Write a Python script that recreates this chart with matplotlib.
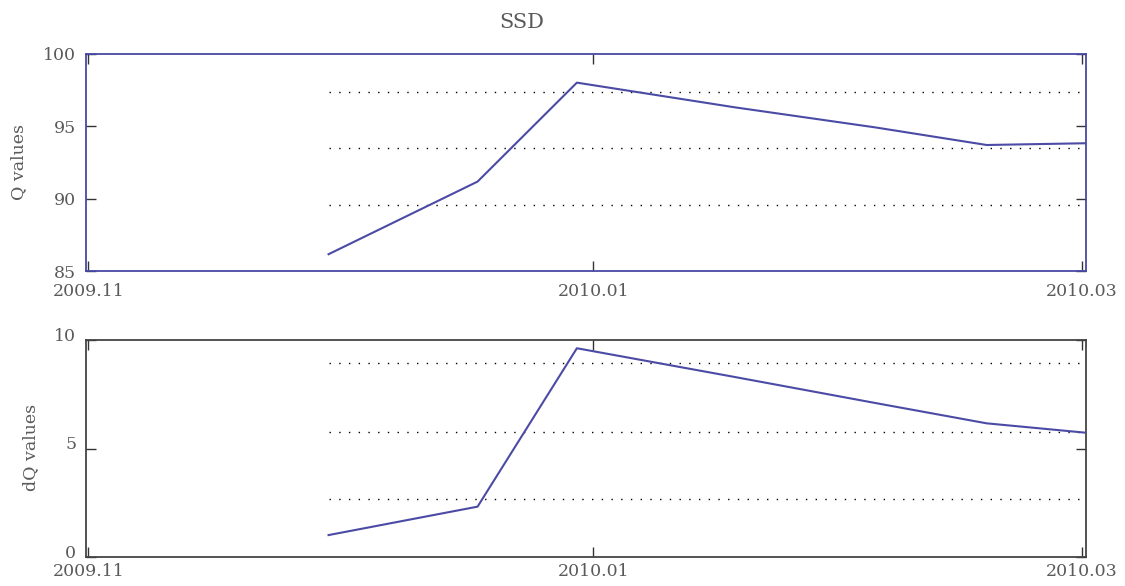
import matplotlib
matplotlib.use("Agg")
import matplotlib.pyplot as plt
from matplotlib.transforms import ScaledTranslation

plt.rcParams["font.family"] = "DejaVu Serif"

# days counted from 2009-11-01
days = [29, 47, 59, 78, 95, 108.5, 120.4]
q_vals = [86.16, 91.18, 98.02, 96.32, 94.93, 93.71, 93.83]
dq_vals = [1.01, 2.32, 9.62, 8.3, 7.1, 6.16, 5.73]

q_levels = [97.35, 93.53, 89.59]
dq_levels = [8.95, 5.76, 2.66]

tick_days = [0, 61, 120]
tick_labels = ["2009.11", "2010.01", "2010.03"]

W, H = 1125, 586
fig = plt.figure(figsize=(W / 100, H / 100), dpi=100)

line_col = "#4b4ba6"
txt_col = "#5a5a5a"

def px_axes(x0, y0, x1, y1):
    return fig.add_axes([x0 / W, 1 - y1 / H, (x1 - x0) / W, (y1 - y0) / H])

ax1 = px_axes(86, 54, 1086, 271)
ax2 = px_axes(86, 340, 1086, 557)

for ax, vals, levels, ylim, yticks, spine_col, xpad in [
    (ax1, q_vals, q_levels, (85, 100), [85, 90, 95, 100], "#4848a8", 9),
    (ax2, dq_vals, dq_levels, (0, 10), [0, 5, 10], "#444444", 4),
]:
    xmax = 120.5
    ax.plot(days, vals, color=line_col, lw=1.5, zorder=3)
    ax.hlines(levels, days[0], xmax, colors="k", linestyles=(0, (1, 6)), lw=1.0)
    ax.set_xlim(-0.3, xmax)
    ax.set_ylim(*ylim)
    ax.set_yticks(yticks)
    ax.set_xticks(tick_days)
    ax.set_xticklabels(tick_labels)
    ax.tick_params(direction="in", length=7, width=1, color="#333333",
                   top=True, right=True, labelsize=12.5, labelcolor=txt_col)
    ax.tick_params(axis="x", pad=xpad)
    ax.tick_params(axis="y", pad=7)
    for s in ax.spines.values():
        s.set_color(spine_col)
        s.set_linewidth(1.3)

# lift the lowest y labels a little so they clear the date labels
up = ScaledTranslation(0, 4 / 72, fig.dpi_scale_trans)
for lbl in ax2.get_yticklabels():
    lbl.set_transform(lbl.get_transform() + up)

fig.text(522 / W, 1 - 22 / H, "SSD", ha="center", va="center",
         fontsize=15, color=txt_col)
fig.text(19 / W, 1 - 162 / H, "Q values", ha="center", va="center",
         rotation=90, fontsize=12.5, color=txt_col)
fig.text(31 / W, 1 - 447 / H, "dQ values", ha="center", va="center",
         rotation=90, fontsize=12.5, color=txt_col)

fig.savefig("out.png", dpi=100)
